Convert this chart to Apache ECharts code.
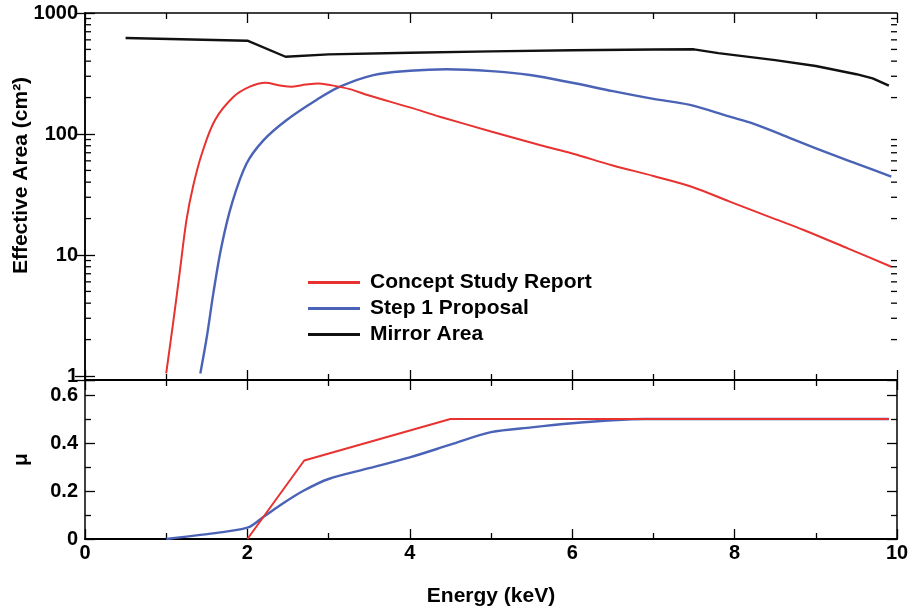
<!DOCTYPE html>
<html><head><meta charset="utf-8">
<script src="https://cdn.jsdelivr.net/npm/echarts@6/dist/echarts.min.js"></script>
<style>html,body{margin:0;padding:0;background:#fff}#c{width:909px;height:611px}</style>
</head><body><div id="c"></div>
<script>
// ---------- data ----------
const areaTickLabels = ['1', '10', '100', '1000'];
const muTickLabels = ['0', '0.2', '0.4', '0.6'];
const logMinorTicks = [2,3,4,5,6,7,8,9,20,30,40,50,60,70,80,90,200,300,400,500,600,700,800,900];

const csrEnergy = [1.0,1.09,1.17,1.25,1.33,1.44,1.6,1.83,2.03,2.22,2.4,2.55,2.72,2.87,3.0,3.26,3.5,4.0,4.37,5.0,5.6,6.0,6.5,7.0,7.47,7.94,8.5,8.85,9.4,9.93];
const csrArea   = [1.05,2.9,7.5,19.5,36.7,69,130,203,246,265,252,246,256,262,255,235,208,166,139,105,81,69,55,45,36.7,27.6,19.8,16.1,11.3,8.0];

const s1Energy = [1.42,1.5,1.58,1.68,1.81,1.99,2.2,2.48,2.85,3.14,3.55,4.0,4.45,5.0,5.48,6.0,6.5,7.0,7.45,7.94,8.23,8.6,9.05,9.5,9.93];
const s1Area   = [1.05,2.1,4.8,11.7,26.7,57,89,130,191,246,307,333,343,331,307,265,226,195,174,139,122,97.5,74,57,44.4];

const mirrorEnergy = [0.5,2.0,2.47,3.0,4.0,5.0,6.0,7.0,7.5,7.8,8.0,8.5,9.0,9.5,9.7,9.9];
const mirrorArea   = [621,590,435,455,470,482,492,499,501,466,449,408,365,312,288,251];

const csrMuEnergy = [2.0,2.7,4.5,9.9];
const csrMu       = [0,0.327,0.5,0.5];

const s1MuEnergy = [1.0,1.42,2.0,2.2,2.44,2.69,3.0,3.5,4.0,4.5,5.0,5.5,6.0,6.5,6.9,9.9];
const s1Mu       = [0,0.017,0.047,0.093,0.149,0.201,0.25,0.295,0.34,0.393,0.445,0.465,0.482,0.495,0.5,0.5];

// ---------- helpers ----------
const zip = (a, b) => a.map((v, i) => [v, b[i]]);
const FONT = 'Liberation Sans';
const RED = '#e8322f', BLUE = '#4a63b6', BLACK = '#111';

const labelStyle = {color: '#000', fontFamily: FONT, fontWeight: 'bold', fontSize: 20};
const nameStyle = {color: '#000', fontFamily: FONT, fontWeight: 'bold', fontSize: 21};

function xAxisCfg(grid, pos, showLabels, lineWidth) {
  return {
    type: 'value', gridIndex: grid, position: pos, min: 0, max: 10, interval: 2,
    axisLine: {show: true, onZero: false, lineStyle: {color: '#000', width: lineWidth}},
    axisTick: {show: true, inside: true, length: 10, lineStyle: {color: '#000', width: 1.3}},
    minorTick: {show: true, splitNumber: 2, length: 6, lineStyle: {color: '#000', width: 1.3}},
    axisLabel: showLabels ? Object.assign({show: true, margin: 4}, labelStyle) : {show: false},
    splitLine: {show: false}, minorSplitLine: {show: false}
  };
}

// minor tick marks of the log axis, drawn through the axis scale
function minorLogTickSeries(edge, dir) {
  return {
    name: 'minor log ticks ' + edge, type: 'custom', xAxisIndex: 0, yAxisIndex: 0, silent: true,
    clip: false,
    data: logMinorTicks.map(v => [edge, v]),
    renderItem: (params, api) => {
      const p = api.coord([api.value(0), api.value(1)]);
      return {
        type: 'line', z2: 100,
        shape: {x1: p[0], y1: p[1], x2: p[0] + dir * 6, y2: p[1]},
        style: {stroke: '#000', lineWidth: 1.3}
      };
    },
    z: 10
  };
}

const option = {
  animation: false,
  backgroundColor: '#fff',
  grid: [
    {left: 85, right: 12, top: 13, height: 367, outerBoundsMode: 'none', containLabel: false},
    {left: 85, right: 12, top: 380, height: 159, outerBoundsMode: 'none', containLabel: false}
  ],
  xAxis: [
    xAxisCfg(0, 'bottom', false, 2.2),
    xAxisCfg(0, 'top', false, 1.5),
    Object.assign(xAxisCfg(1, 'bottom', true, 2.2), {
      name: 'Energy (keV)', nameLocation: 'middle', nameGap: 47, nameTextStyle: nameStyle
    }),
    xAxisCfg(1, 'top', false, 2.2)
  ],
  yAxis: [
    {
      type: 'log', gridIndex: 0, position: 'left', min: 0.927, max: 1000, logBase: 10,
      axisLine: {show: true, lineStyle: {color: '#000', width: 1.5}},
      axisTick: {show: true, inside: true, length: 10, lineStyle: {color: '#000', width: 1.3}},
      axisLabel: Object.assign({
        show: true, margin: 7,
        formatter: v => {
          const s = areaTickLabels.find(t => Math.abs(+t - v) / (+t) < 1e-6);
          return s === undefined ? '' : s;
        }
      }, labelStyle),
      splitLine: {show: false},
      name: 'Effective Area (cm²)', nameLocation: 'middle', nameGap: 53, nameRotate: 90,
      nameMoveOverlap: false,
      nameTextStyle: Object.assign({padding: [0, 0, 0, 42]}, nameStyle)
    },
    {
      type: 'log', gridIndex: 0, position: 'right', min: 0.927, max: 1000, logBase: 10,
      axisLine: {show: true, lineStyle: {color: '#000', width: 1.5}},
      axisTick: {show: true, inside: true, length: 10, lineStyle: {color: '#000', width: 1.3}},
      axisLabel: {show: false}, splitLine: {show: false}
    },
    {
      type: 'value', gridIndex: 1, position: 'left', min: 0, max: 0.6625, interval: 0.2,
      axisLine: {show: true, onZero: false, lineStyle: {color: '#000', width: 1.5}},
      axisTick: {show: true, inside: true, length: 10, lineStyle: {color: '#000', width: 1.3}},
      minorTick: {show: true, splitNumber: 2, length: 6, lineStyle: {color: '#000', width: 1.3}},
      axisLabel: Object.assign({
        show: true, margin: 7,
        formatter: v => {
          const s = muTickLabels.find(t => Math.abs(+t - v) < 1e-9);
          return s === undefined ? '' : s;
        }
      }, labelStyle),
      splitLine: {show: false}, minorSplitLine: {show: false},
      name: 'μ', nameLocation: 'middle', nameGap: 53, nameRotate: 90, nameMoveOverlap: false,
      nameTextStyle: nameStyle
    },
    {
      type: 'value', gridIndex: 1, position: 'right', min: 0, max: 0.6625, interval: 0.2,
      axisLine: {show: true, onZero: false, lineStyle: {color: '#000', width: 1.5}},
      axisTick: {show: true, inside: true, length: 10, lineStyle: {color: '#000', width: 1.3}},
      minorTick: {show: true, splitNumber: 2, length: 6, lineStyle: {color: '#000', width: 1.3}},
      axisLabel: {show: false}, splitLine: {show: false}, minorSplitLine: {show: false}
    }
  ],
  legend: {
    data: ['Concept Study Report', 'Step 1 Proposal', 'Mirror Area'],
    orient: 'vertical', left: 308, top: 272, padding: 0,
    itemWidth: 52, itemHeight: 3, itemGap: 5, icon: 'rect',
    textStyle: Object.assign({padding: [0, 0, 0, 5]}, nameStyle)
  },
  series: [
    {
      name: 'Concept Study Report', type: 'line', xAxisIndex: 0, yAxisIndex: 0,
      data: zip(csrEnergy, csrArea), showSymbol: false, smooth: 0.35,
      lineStyle: {color: RED, width: 2}, itemStyle: {color: RED}, z: 3
    },
    {
      name: 'Step 1 Proposal', type: 'line', xAxisIndex: 0, yAxisIndex: 0,
      data: zip(s1Energy, s1Area), showSymbol: false, smooth: 0.35,
      lineStyle: {color: BLUE, width: 2.4}, itemStyle: {color: BLUE}, z: 2
    },
    {
      name: 'Mirror Area', type: 'line', xAxisIndex: 0, yAxisIndex: 0,
      data: zip(mirrorEnergy, mirrorArea), showSymbol: false, smooth: false,
      lineStyle: {color: BLACK, width: 2.4}, itemStyle: {color: BLACK}, z: 2
    },
    {
      name: 'Concept Study Report', type: 'line', xAxisIndex: 2, yAxisIndex: 2,
      data: zip(csrMuEnergy, csrMu), showSymbol: false,
      lineStyle: {color: RED, width: 2}, itemStyle: {color: RED}, z: 3
    },
    {
      name: 'Step 1 Proposal', type: 'line', xAxisIndex: 2, yAxisIndex: 2,
      data: zip(s1MuEnergy, s1Mu), showSymbol: false, smooth: 0.3,
      lineStyle: {color: BLUE, width: 2.4}, itemStyle: {color: BLUE}, z: 2
    },
    minorLogTickSeries(0, 1),
    minorLogTickSeries(10, -1)
  ]
};

const chart = echarts.init(document.getElementById('c'), null, {renderer: 'canvas'});
chart.setOption(option);
</script>
</body></html>
